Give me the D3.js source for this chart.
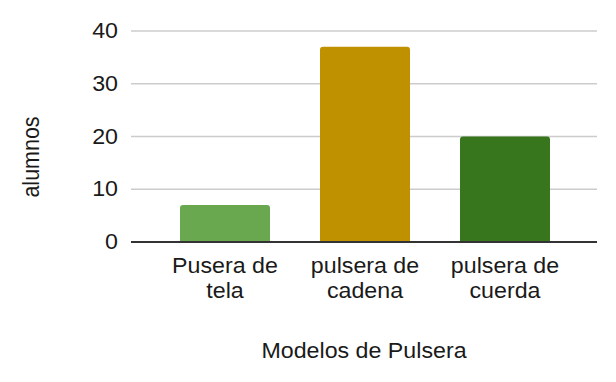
<!DOCTYPE html>
<html>
<head>
<meta charset="utf-8">
<script src="https://cdn.jsdelivr.net/npm/d3@7/dist/d3.min.js"></script>
<style>
  body { margin: 0; background: #fff; }
  text { font-family: "Liberation Sans", Arial, sans-serif; fill: #1a1a1a; }
</style>
</head>
<body>
<script>
let categories = [["Pusera de", "tela"], ["pulsera de", "cadena"], ["pulsera de", "cuerda"]];
let values = [7, 37, 20];
let colors = ["#6aa84f", "#bf9000", "#38761d"];
let yTicks = [0, 10, 20, 30, 40];
let xTitle = "Modelos de Pulsera";
let yTitle = "alumnos";

let width = 616;
let height = 382;
let fontSize = 21.5;
// the reference text is a little wider than plain Arial
let sx = 1.08;

let svg = d3.select("body")
    .append("svg")
    .attr("width", width)
    .attr("height", height);

let keys = categories.map((d) => d.join(" "));

let xScale = d3.scaleBand()
    .domain(keys)
    .range([155, 575])
    .paddingInner(0.357)
    .paddingOuter(0.1785);

let yScale = d3.scaleLinear()
    .domain([0, 40])
    .range([242, 31]);

function place(x, y) {
    return "translate(" + x + "," + y + ") scale(" + sx + ",1)";
}

// gridlines
svg.append("g")
    .selectAll("line")
    .data(yTicks.slice(1))
    .join("line")
    .attr("x1", 131)
    .attr("x2", 597)
    .attr("y1", (d) => yScale(d))
    .attr("y2", (d) => yScale(d))
    .attr("stroke", "#cccccc")
    .attr("stroke-width", 1.4);

// y tick labels
svg.append("g")
    .selectAll("text")
    .data(yTicks)
    .join("text")
    .attr("transform", (d) => place(118, yScale(d)))
    .attr("text-anchor", "end")
    .attr("dominant-baseline", "central")
    .style("font-size", fontSize + "px")
    .text((d) => d);

// bars with rounded top corners
let r = 3;
svg.append("g")
    .selectAll("path")
    .data(values)
    .join("path")
    .attr("d", (d, i) => {
        let x0 = xScale(keys[i]);
        let x1 = x0 + xScale.bandwidth();
        let y0 = yScale(0);
        let y1 = yScale(d);
        return "M" + x0 + "," + y0 +
            "V" + (y1 + r) +
            "Q" + x0 + "," + y1 + " " + (x0 + r) + "," + y1 +
            "H" + (x1 - r) +
            "Q" + x1 + "," + y1 + " " + x1 + "," + (y1 + r) +
            "V" + y0 + "Z";
    })
    .attr("fill", (d, i) => colors[i]);

// baseline
svg.append("line")
    .attr("x1", 131)
    .attr("x2", 597)
    .attr("y1", yScale(0))
    .attr("y2", yScale(0))
    .attr("stroke", "#333333")
    .attr("stroke-width", 2);

// category labels
let catLabels = svg.append("g")
    .selectAll("text")
    .data(categories)
    .join("text")
    .attr("transform", (d, i) => place(xScale(keys[i]) + xScale.bandwidth() / 2, 273))
    .attr("text-anchor", "middle")
    .style("font-size", fontSize + "px");

catLabels.selectAll("tspan")
    .data((d) => d)
    .join("tspan")
    .attr("x", 0)
    .attr("y", (d, j) => j * 25)
    .text((d) => d);

// axis titles
svg.append("text")
    .attr("transform", place(364, 358))
    .attr("text-anchor", "middle")
    .style("font-size", fontSize + "px")
    .text(xTitle);

svg.append("text")
    .attr("transform", "translate(39,157) scale(" + sx + ",1) rotate(-90)")
    .attr("text-anchor", "middle")
    .style("font-size", fontSize + "px")
    .text(yTitle);
</script>
</body>
</html>
